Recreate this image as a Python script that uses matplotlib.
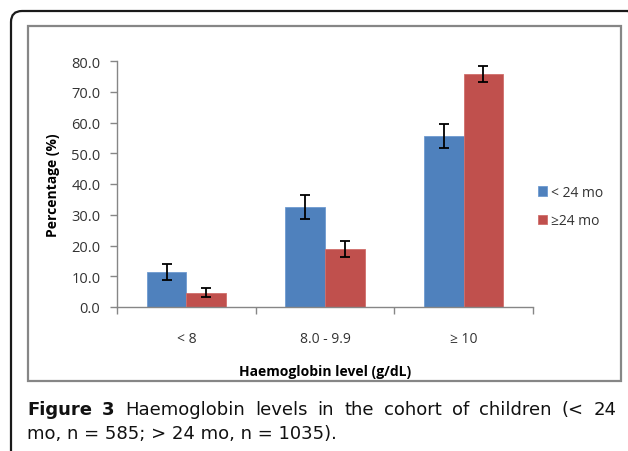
import numpy as np
import matplotlib
matplotlib.use("Agg")
import matplotlib.pyplot as plt
from matplotlib.patches import FancyBboxPatch, Rectangle
from matplotlib.transforms import IdentityTransform

plt.rcParams['font.family'] = ['Open Sans', 'DejaVu Sans']

# data
categories = ['< 8', '8.0 - 9.9', '\u2265 10']
under24 = [11.4, 32.6, 55.6]
under24_err = [2.6, 3.9, 4.0]
over24 = [4.7, 18.9, 75.8]
over24_err = [1.4, 2.5, 2.7]
series_names = ['< 24 mo', '\u226524 mo']
yticks = [0, 10, 20, 30, 40, 50, 60, 70, 80]
caption1 = 'Haemoglobin levels in the cohort of children (< 24'
caption2 = 'mo, n = 585; > 24 mo, n = 1035).'

blue = '#4F81BD'
red = '#C0504D'
grey = '#868686'

W, H = 628.0, 452.0
fig = plt.figure(figsize=(W / 100, H / 100), dpi=100)

# outer rounded frame in pixel coords (runs off the right and bottom edge)
frame = FancyBboxPatch((11, -30), 628, H - 12 + 30,
                       boxstyle="round,pad=0,rounding_size=11",
                       transform=IdentityTransform(), fill=False,
                       edgecolor='#1a1a1a', linewidth=1.6)
fig.patches.append(frame)

# grey chart border
border = Rectangle((28 / W, 1 - 382 / H), (621 - 28) / W, (382 - 27) / H,
                   transform=fig.transFigure, fill=False,
                   edgecolor=grey, linewidth=1.6)
fig.patches.append(border)

ax = fig.add_axes([117 / W, 1 - 308 / H, (533 - 117) / W, (308 - 62) / H])
x = np.arange(len(categories))
bw = 1 / 3.5
ekw = dict(ecolor='black', elinewidth=1.3, capsize=3.5, capthick=1.3)
ax.bar(x - bw / 2, under24, bw, color=blue, edgecolor='#6F9AD0', linewidth=0.6,
       yerr=under24_err, error_kw=ekw, label=series_names[0])
ax.bar(x + bw / 2, over24, bw, color=red, edgecolor='#D06E6B', linewidth=0.6,
       yerr=over24_err, error_kw=ekw, label=series_names[1])

ax.set_xlim(-0.5, len(categories) - 0.5)
ax.set_ylim(0, 80)
ax.set_yticks(yticks)
ax.set_yticklabels(['%.1f' % v for v in yticks], fontsize=10.5, color='#333333')
ax.set_xticks(x)
ax.set_xticklabels(categories, fontsize=10, color='#333333')
ax.tick_params(axis='x', length=0, pad=17)
ax.set_xticks(np.arange(len(categories) + 1) - 0.5, minor=True)
ax.tick_params(axis='x', which='minor', length=5, color=grey, width=1)
ax.tick_params(axis='y', length=5, color=grey, width=1, pad=7)
for s in ['top', 'right']:
    ax.spines[s].set_visible(False)
for s in ['left', 'bottom']:
    ax.spines[s].set_color(grey)
    ax.spines[s].set_linewidth(1)

ax.set_ylabel('Percentage (%)', fontsize=10, fontweight='bold', labelpad=8)
ax.set_xlabel('Haemoglobin level (g/dL)', fontsize=10, fontweight='bold', labelpad=13)

leg = ax.legend(loc='upper left', bbox_to_anchor=(532 / W, 1 - 180 / H),
                bbox_transform=fig.transFigure, frameon=False, fontsize=10,
                handlelength=0.7, handleheight=0.7, handletextpad=0.3,
                labelspacing=1.0, borderaxespad=0)
for t in leg.get_texts():
    t.set_color('#333333')

# caption: second line sized to span x=27..337, first line justified 27..617
fig.canvas.draw()
r = fig.canvas.get_renderer()
cap_font = 'DejaVu Sans'
t2 = fig.text(27 / W, 1 - 434 / H, caption2, fontsize=12, family=cap_font,
              color='#111111', va='center')
fs = 12 * 310.0 / t2.get_window_extent(r).width
t2.set_fontsize(fs)

y1 = 1 - 410 / H
parts = [('Figure', 'bold'), ('3', 'bold')] + [(w, 'normal') for w in caption1.split()]
texts = []
for w, wt in parts:
    t = fig.text(0, y1, w, fontsize=fs, fontweight=wt, family=cap_font,
                 color='#111111', va='center')
    texts.append(t)
widths = [t.get_window_extent(r).width for t in texts]
left, right = 27.0, 617.0
gap = (right - left - sum(widths)) / (len(texts) - 1)
pos = left
for t, w in zip(texts, widths):
    t.set_x(pos / W)
    pos += w + gap

fig.savefig('out.png', dpi=100)
